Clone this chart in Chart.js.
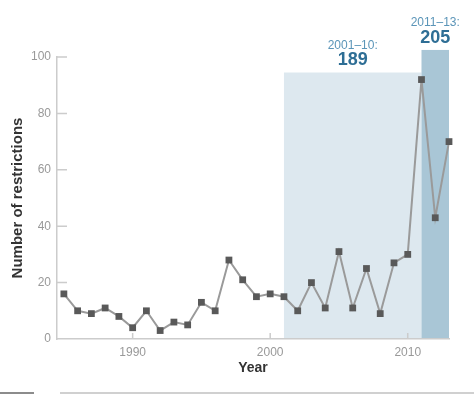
<!DOCTYPE html>
<html>
<head>
<meta charset="utf-8">
<script src="https://cdn.jsdelivr.net/npm/chart.js@4/dist/chart.umd.min.js"></script>
<style>
  html, body { margin: 0; padding: 0; background: #fff; }
  #wrap { position: relative; width: 474px; height: 395px; }
  #rule1 { position: absolute; left: 0; top: 392px; width: 34px; height: 2px; background: #8c8c8c; }
  #rule2 { position: absolute; left: 60px; top: 392px; width: 414px; height: 2px; background: #d0d0d0; }
</style>
</head>
<body>
<div id="wrap">
  <canvas id="c" width="474" height="395"></canvas>
  <div id="rule1"></div><div id="rule2"></div>
</div>
<script>
const years = [1985,1986,1987,1988,1989,1990,1991,1992,1993,1994,1995,1996,1997,1998,1999,
               2000,2001,2002,2003,2004,2005,2006,2007,2008,2009,2010,2011,2012,2013];
const restrictions = [16,10,9,11,8,4,10,3,6,5,13,10,28,21,15,16,15,10,20,11,31,11,25,9,27,30,92,43,70];
const xTickValues = [1990, 2000, 2010];
const yTickValues = [0, 20, 40, 60, 80, 100];

const periodLabels = ['2001–10:', '2011–13:'];
const periodTotals = ['189', '205'];
const periodStart = [2001, 2011];
const periodEnd = [2011, 2013];
const periodHeights = [94.5, 102.5];
const periodColors = ['#dde8ef', '#a9c6d6'];

const periodPlugin = {
  id: 'periods',
  beforeDraw(chart) {
    const {ctx, scales: {x, y}} = chart;
    ctx.save();
    for (let i = 0; i < periodStart.length; i++) {
      const x0 = x.getPixelForValue(periodStart[i]);
      const x1 = x.getPixelForValue(periodEnd[i]);
      const yt = y.getPixelForValue(periodHeights[i]);
      const yb = y.getPixelForValue(0);
      ctx.fillStyle = periodColors[i];
      ctx.fillRect(x0, yt, x1 - x0, yb - yt);
      const cx = (x0 + x1) / 2;
      ctx.textAlign = 'center';
      ctx.textBaseline = 'middle';
      ctx.fillStyle = '#5b95b8';
      ctx.font = '12px "Liberation Sans", Arial, sans-serif';
      ctx.fillText(periodLabels[i], cx, yt - 27);
      ctx.fillStyle = '#2e6e95';
      ctx.font = 'bold 18px "Liberation Sans", Arial, sans-serif';
      ctx.fillText(periodTotals[i], cx, yt - 12);
    }
    ctx.restore();
  },
  beforeDatasetsDraw(chart) {
    const {ctx, scales: {x, y}, chartArea} = chart;
    ctx.save();
    ctx.strokeStyle = '#cccccc';
    ctx.lineWidth = 1.5;
    ctx.beginPath();
    for (const v of yTickValues) {
      if (v === 0) continue;
      const py = y.getPixelForValue(v);
      ctx.moveTo(chartArea.left, py);
      ctx.lineTo(chartArea.left + 10, py);
    }
    for (const v of xTickValues) {
      const px = x.getPixelForValue(v);
      ctx.moveTo(px, chartArea.bottom);
      ctx.lineTo(px, chartArea.bottom - 6);
    }
    ctx.stroke();
    ctx.restore();
  }
};

new Chart(document.getElementById('c'), {
  type: 'line',
  data: {
    datasets: [{
      data: years.map((yr, i) => ({x: yr, y: restrictions[i]})),
      borderColor: '#9a9a9a',
      borderWidth: 2,
      pointStyle: 'rect',
      pointRadius: 4.8,
      pointBorderWidth: 0,
      pointBackgroundColor: '#595959',
      tension: 0,
      clip: false
    }]
  },
  options: {
    responsive: false,
    animation: false,
    layout: { padding: { top: 57, right: 25, left: 0, bottom: 0 } },
    plugins: { legend: { display: false }, tooltip: { enabled: false } },
    scales: {
      x: {
        type: 'linear',
        min: 1984.5,
        max: 2013,
        afterBuildTicks: s => { s.ticks = xTickValues.map(v => ({value: v})); },
        afterFit: s => { s.height = 56; },
        grid: { display: false, drawTicks: false },
        border: { display: true, color: '#cccccc', width: 1.5 },
        ticks: { padding: 6, color: '#999999', font: { size: 12, family: '"Liberation Sans", Arial, sans-serif' }, callback: v => String(v) },
        title: { display: true, text: 'Year', color: '#333333', padding: { top: 0, bottom: 18.6 },
                 font: { size: 14, weight: 'bold', family: '"Liberation Sans", Arial, sans-serif' } }
      },
      y: {
        min: 0,
        max: 100,
        afterBuildTicks: s => { s.ticks = yTickValues.map(v => ({value: v})); },
        afterFit: s => { s.width = 57; },
        grid: { display: false, drawTicks: false },
        border: { display: true, color: '#cccccc', width: 1.5 },
        ticks: { padding: 6, color: '#999999', font: { size: 12, family: '"Liberation Sans", Arial, sans-serif' }, callback: v => String(v) },
        title: { display: true, text: 'Number of restrictions', color: '#333333', padding: { top: 9, bottom: 0 },
                 font: { size: 15, weight: 'bold', family: '"Liberation Sans", Arial, sans-serif' } }
      }
    }
  },
  plugins: [periodPlugin]
});
</script>
</body>
</html>
